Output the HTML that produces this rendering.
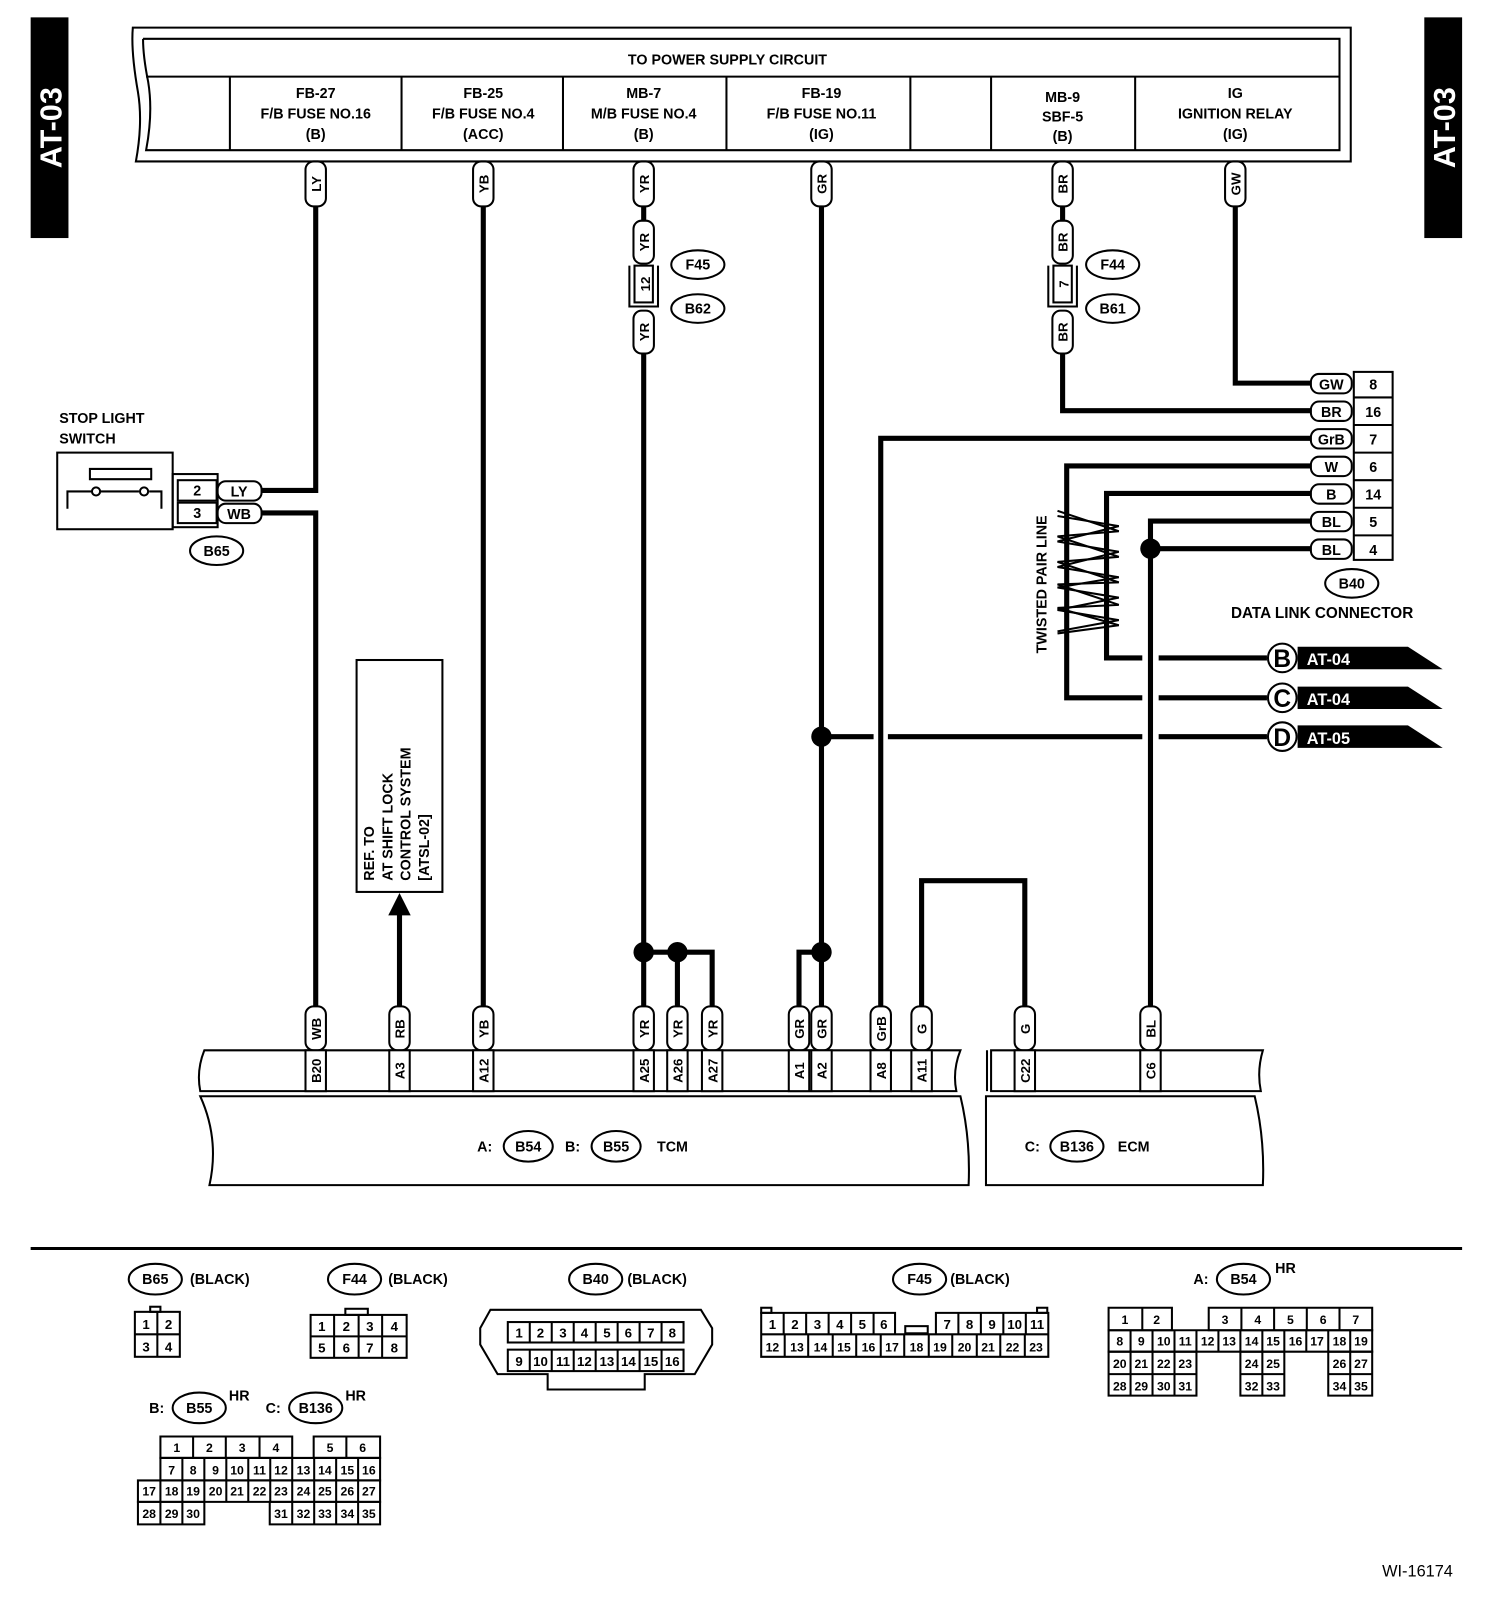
<!DOCTYPE html>
<html><head><meta charset="utf-8"><style>
html,body{margin:0;padding:0;background:#fff}
svg{display:block}
text{font-family:"Liberation Sans",sans-serif;font-weight:bold;fill:#000}
.w{stroke:#000;stroke-width:5;fill:none}
.t{stroke:#000;stroke-width:2;fill:none}
.p{stroke:#000;stroke-width:2;fill:#fff}
</style></head><body>
<svg width="1504" height="1602" viewBox="0 0 1472 1568" preserveAspectRatio="none" xmlns="http://www.w3.org/2000/svg">
<!-- side tabs -->
<rect x="30" y="17" width="37" height="216" fill="#000"/>
<text transform="translate(60,125) rotate(-90)" font-size="30" text-anchor="middle" style="fill:#fff">AT-03</text>
<rect x="1394" y="17" width="37" height="216" fill="#000"/>
<text transform="translate(1424,125) rotate(-90)" font-size="30" text-anchor="middle" style="fill:#fff">AT-03</text>

<!-- top power box -->
<path class="t" d="M130,27 L1322,27 L1322,158 L133,158 Q140,120 135,90 Q128,50 130,27 Z"/>
<path class="t" d="M140,38 L1311,38 L1311,147 L143,147 Q150,110 145,80 Q140,55 140,38"/>
<line class="t" x1="143" y1="75" x2="1311" y2="75"/>
<text x="712" y="63" font-size="14" text-anchor="middle">TO POWER SUPPLY CIRCUIT</text>
<g class="t">
<line x1="225" y1="75" x2="225" y2="147"/><line x1="393" y1="75" x2="393" y2="147"/>
<line x1="551" y1="75" x2="551" y2="147"/><line x1="711" y1="75" x2="711" y2="147"/>
<line x1="891" y1="75" x2="891" y2="147"/><line x1="970" y1="75" x2="970" y2="147"/>
<line x1="1111" y1="75" x2="1111" y2="147"/></g>
<g font-size="14" text-anchor="middle">
<text x="309" y="96">FB-27</text><text x="309" y="116">F/B FUSE NO.16</text><text x="309" y="136">(B)</text>
<text x="473" y="96">FB-25</text><text x="473" y="116">F/B FUSE NO.4</text><text x="473" y="136">(ACC)</text>
<text x="630" y="96">MB-7</text><text x="630" y="116">M/B FUSE NO.4</text><text x="630" y="136">(B)</text>
<text x="804" y="96">FB-19</text><text x="804" y="116">F/B FUSE NO.11</text><text x="804" y="136">(IG)</text>
<text x="1040" y="100">MB-9</text><text x="1040" y="119">SBF-5</text><text x="1040" y="138">(B)</text>
<text x="1209" y="96">IG</text><text x="1209" y="116">IGNITION RELAY</text><text x="1209" y="136">(IG)</text>
</g>

<!-- wires -->
<g class="w">
<path d="M309,202 V480 H256"/>
<path d="M256,502 H309 V985"/>
<path d="M473,202 V985"/>
<path d="M630,202 V216 M630,346 V985"/>
<path d="M630,932 H697 V985 M663,932 V985"/>
<path d="M804,202 V985 M804,932 H782 V985"/>
<path d="M1040,202 V216 M1040,346 V402 H1283"/>
<path d="M1209,202 V375 H1283"/>
<path d="M1283,429 H862 V985"/>
<path d="M1283,456 H1044 V683 H1118 M1134,683 H1240"/>
<path d="M1283,483 H1083 V644 H1118 M1134,644 H1240"/>
<path d="M1283,510 H1126 V985 M1126,537 H1283"/>
<path d="M804,721 H855 M869,721 H1118 M1134,721 H1240"/>
<path d="M902,985 V862 H1003 V985"/>
<path d="M391,985 V893"/>
</g>
<polygon points="391,874 380,896 402,896" fill="#000"/>
<g fill="#000">
<circle cx="804" cy="721" r="10"/><circle cx="630" cy="932" r="10"/><circle cx="663" cy="932" r="10"/>
<circle cx="804" cy="932" r="10"/><circle cx="1126" cy="537" r="10"/></g>

<!-- twisted pair -->
<path class="t" d="M1035,505 L1095,515 L1035,530 L1095,540 L1035,555 L1095,565 L1035,575 L1095,585 L1035,597 L1095,607 L1035,618"/>
<path class="t" d="M1035,500 L1095,520 L1035,525 L1095,545 L1035,550 L1095,570 L1035,572 L1095,592 L1035,595 L1095,612 L1035,620"/>
<text transform="translate(1024,572) rotate(-90)" font-size="14" text-anchor="middle">TWISTED PAIR LINE</text>

<!-- off-page flags -->
<g>
<path d="M1270,633 H1378 L1412,655 H1270 Z" fill="#000"/>
<path d="M1270,672 H1378 L1412,694 H1270 Z" fill="#000"/>
<path d="M1270,710 H1378 L1412,732 H1270 Z" fill="#000"/>
<circle cx="1255" cy="644" r="14" class="p" stroke-width="3"/><circle cx="1255" cy="683" r="14" class="p" stroke-width="3"/><circle cx="1255" cy="721" r="14" class="p" stroke-width="3"/>
<text x="1255" y="653" font-size="24" text-anchor="middle">B</text>
<text x="1255" y="692" font-size="24" text-anchor="middle">C</text>
<text x="1255" y="730" font-size="24" text-anchor="middle">D</text>
<text x="1279" y="651" font-size="16" style="fill:#fff">AT-04</text>
<text x="1279" y="690" font-size="16" style="fill:#fff">AT-04</text>
<text x="1279" y="728" font-size="16" style="fill:#fff">AT-05</text>
</g>

<!-- DLC -->
<rect class="p" x="1325" y="364" width="38" height="184"/>
<g class="t"><line x1="1325" y1="389" x2="1363" y2="389"/><line x1="1325" y1="416" x2="1363" y2="416"/><line x1="1325" y1="443" x2="1363" y2="443"/><line x1="1325" y1="470" x2="1363" y2="470"/><line x1="1325" y1="497" x2="1363" y2="497"/><line x1="1325" y1="524" x2="1363" y2="524"/></g>
<g class="p">
<rect x="1283" y="366" width="40" height="19" rx="8"/><rect x="1283" y="393" width="40" height="19" rx="8"/><rect x="1283" y="420" width="40" height="19" rx="8"/><rect x="1283" y="447" width="40" height="19" rx="8"/><rect x="1283" y="474" width="40" height="19" rx="8"/><rect x="1283" y="501" width="40" height="19" rx="8"/><rect x="1283" y="528" width="40" height="19" rx="8"/></g>
<g font-size="14" text-anchor="middle">
<text x="1303" y="381">GW</text><text x="1303" y="408">BR</text><text x="1303" y="435">GrB</text><text x="1303" y="462">W</text><text x="1303" y="489">B</text><text x="1303" y="516">BL</text><text x="1303" y="543">BL</text>
<text x="1344" y="381">8</text><text x="1344" y="408">16</text><text x="1344" y="435">7</text><text x="1344" y="462">6</text><text x="1344" y="489">14</text><text x="1344" y="516">5</text><text x="1344" y="543">4</text>
</g>
<ellipse class="p" cx="1323" cy="571" rx="26" ry="14"/><text x="1323" y="576" font-size="14" text-anchor="middle">B40</text>
<text x="1294" y="605" font-size="15" text-anchor="middle">DATA LINK CONNECTOR</text>

<!-- inline connectors F45/B62, F44/B61 -->
<g>
<path class="t" d="M616,260 V300 H644 V260"/><rect class="p" x="621" y="260" width="18" height="36"/>
<text transform="translate(636,278) rotate(-90)" font-size="13" text-anchor="middle">12</text>
<ellipse class="p" cx="683" cy="259" rx="26" ry="14"/><text x="683" y="264" font-size="14" text-anchor="middle">F45</text>
<ellipse class="p" cx="683" cy="302" rx="26" ry="14"/><text x="683" y="307" font-size="14" text-anchor="middle">B62</text>
<path class="t" d="M1026,260 V300 H1054 V260"/><rect class="p" x="1031" y="260" width="18" height="36"/>
<text transform="translate(1046,278) rotate(-90)" font-size="13" text-anchor="middle">7</text>
<ellipse class="p" cx="1089" cy="259" rx="26" ry="14"/><text x="1089" y="264" font-size="14" text-anchor="middle">F44</text>
<ellipse class="p" cx="1089" cy="302" rx="26" ry="14"/><text x="1089" y="307" font-size="14" text-anchor="middle">B61</text>
</g>

<!-- vertical pills -->
<g class="p">
<rect x="299" y="158" width="20" height="44" rx="8"/><rect x="463" y="158" width="20" height="44" rx="8"/>
<rect x="620" y="158" width="20" height="44" rx="8"/><rect x="620" y="216" width="20" height="42" rx="8"/><rect x="620" y="304" width="20" height="42" rx="8"/>
<rect x="794" y="158" width="20" height="44" rx="8"/>
<rect x="1030" y="158" width="20" height="44" rx="8"/><rect x="1030" y="216" width="20" height="42" rx="8"/><rect x="1030" y="304" width="20" height="42" rx="8"/>
<rect x="1199" y="158" width="20" height="44" rx="8"/>
</g>
<g font-size="13" text-anchor="middle">
<text transform="translate(314,180) rotate(-90)">LY</text><text transform="translate(478,180) rotate(-90)">YB</text>
<text transform="translate(635,180) rotate(-90)">YR</text><text transform="translate(635,237) rotate(-90)">YR</text><text transform="translate(635,325) rotate(-90)">YR</text>
<text transform="translate(809,180) rotate(-90)">GR</text>
<text transform="translate(1045,180) rotate(-90)">BR</text><text transform="translate(1045,237) rotate(-90)">BR</text><text transform="translate(1045,325) rotate(-90)">BR</text>
<text transform="translate(1214,180) rotate(-90)">GW</text>
</g>

<!-- stop light switch -->
<text x="58" y="414" font-size="14">STOP LIGHT</text><text x="58" y="434" font-size="14">SWITCH</text>
<rect class="t" x="56" y="443" width="113" height="75"/>
<path class="t" d="M88,459 H148 V469 H88 Z M66,498 V481 H90 M98,481 H136 M146,481 H158 V498"/>
<circle class="t" cx="94" cy="481" r="4"/><circle class="t" cx="141" cy="481" r="4"/>
<rect class="t" x="169" y="464" width="44" height="52"/>
<rect class="p" x="174" y="470" width="38" height="20"/><rect class="p" x="174" y="492" width="38" height="20"/>
<text x="193" y="485" font-size="14" text-anchor="middle">2</text><text x="193" y="507" font-size="14" text-anchor="middle">3</text>
<rect class="p" x="213" y="471" width="43" height="19" rx="8"/><rect class="p" x="213" y="493" width="43" height="19" rx="8"/>
<text x="234" y="486" font-size="14" text-anchor="middle">LY</text><text x="234" y="508" font-size="14" text-anchor="middle">WB</text>
<ellipse class="p" cx="212" cy="539" rx="26" ry="14"/><text x="212" y="544" font-size="14" text-anchor="middle">B65</text>

<!-- REF box -->
<rect class="t" x="349" y="646" width="84" height="227"/>
<g font-size="14"><text transform="translate(366,862) rotate(-90)">REF. TO</text><text transform="translate(384,862) rotate(-90)">AT SHIFT LOCK</text><text transform="translate(402,862) rotate(-90)">CONTROL SYSTEM</text><text transform="translate(420,862) rotate(-90)">[ATSL-02]</text></g>

<!-- TCM / ECM -->
<path class="t" d="M200,1028 H940 Q932,1048 936,1068 H196 Q192,1048 200,1028 Z"/>
<path class="t" d="M196,1073 H940 Q950,1115 948,1160 H205 Q215,1115 196,1073 Z"/>
<path class="t" d="M966,1028 V1068 M970,1028 H1236 Q1230,1048 1234,1068 H970 Z"/>
<path class="t" d="M965,1073 H1228 Q1238,1115 1236,1160 H965 Z"/>
<text x="467" y="1127" font-size="14">A:</text>
<ellipse class="p" cx="517" cy="1122" rx="24" ry="15"/><text x="517" y="1127" font-size="14" text-anchor="middle">B54</text>
<text x="553" y="1127" font-size="14">B:</text>
<ellipse class="p" cx="603" cy="1122" rx="24" ry="15"/><text x="603" y="1127" font-size="14" text-anchor="middle">B55</text>
<text x="643" y="1127" font-size="14">TCM</text>
<text x="1003" y="1127" font-size="14">C:</text>
<ellipse class="p" cx="1054" cy="1122" rx="26" ry="15"/><text x="1054" y="1127" font-size="14" text-anchor="middle">B136</text>
<text x="1094" y="1127" font-size="14">ECM</text>

<!-- bottom pills + pin boxes -->
<g class="p">
<rect x="299" y="985" width="20" height="43" rx="8"/><rect x="381" y="985" width="20" height="43" rx="8"/><rect x="463" y="985" width="20" height="43" rx="8"/>
<rect x="620" y="985" width="20" height="43" rx="8"/><rect x="653" y="985" width="20" height="43" rx="8"/><rect x="687" y="985" width="20" height="43" rx="8"/>
<rect x="772" y="985" width="20" height="43" rx="8"/><rect x="794" y="985" width="20" height="43" rx="8"/><rect x="852" y="985" width="20" height="43" rx="8"/>
<rect x="892" y="985" width="20" height="43" rx="8"/><rect x="993" y="985" width="20" height="43" rx="8"/><rect x="1116" y="985" width="20" height="43" rx="8"/>
<rect x="299" y="1028" width="20" height="40"/><rect x="381" y="1028" width="20" height="40"/><rect x="463" y="1028" width="20" height="40"/>
<rect x="620" y="1028" width="20" height="40"/><rect x="653" y="1028" width="20" height="40"/><rect x="687" y="1028" width="20" height="40"/>
<rect x="772" y="1028" width="20" height="40"/><rect x="794" y="1028" width="20" height="40"/><rect x="852" y="1028" width="20" height="40"/>
<rect x="892" y="1028" width="20" height="40"/><rect x="993" y="1028" width="20" height="40"/><rect x="1116" y="1028" width="20" height="40"/>
</g>
<g font-size="13" text-anchor="middle">
<text transform="translate(314,1007) rotate(-90)">WB</text><text transform="translate(396,1007) rotate(-90)">RB</text><text transform="translate(478,1007) rotate(-90)">YB</text>
<text transform="translate(635,1007) rotate(-90)">YR</text><text transform="translate(668,1007) rotate(-90)">YR</text><text transform="translate(702,1007) rotate(-90)">YR</text>
<text transform="translate(787,1007) rotate(-90)">GR</text><text transform="translate(809,1007) rotate(-90)">GR</text><text transform="translate(867,1007) rotate(-90)">GrB</text>
<text transform="translate(907,1007) rotate(-90)">G</text><text transform="translate(1008,1007) rotate(-90)">G</text><text transform="translate(1131,1007) rotate(-90)">BL</text>
<text transform="translate(314,1048) rotate(-90)">B20</text><text transform="translate(396,1048) rotate(-90)">A3</text><text transform="translate(478,1048) rotate(-90)">A12</text>
<text transform="translate(635,1048) rotate(-90)">A25</text><text transform="translate(668,1048) rotate(-90)">A26</text><text transform="translate(702,1048) rotate(-90)">A27</text>
<text transform="translate(787,1048) rotate(-90)">A1</text><text transform="translate(809,1048) rotate(-90)">A2</text><text transform="translate(867,1048) rotate(-90)">A8</text>
<text transform="translate(907,1048) rotate(-90)">A11</text><text transform="translate(1008,1048) rotate(-90)">C22</text><text transform="translate(1131,1048) rotate(-90)">C6</text>
</g>

<line x1="30" y1="1222" x2="1431" y2="1222" stroke="#000" stroke-width="3"/>

<!-- connector legends -->
<g font-size="14">
<ellipse class="p" cx="152" cy="1252" rx="26" ry="15"/><text x="152" y="1257" text-anchor="middle">B65</text><text x="186" y="1257">(BLACK)</text>
<ellipse class="p" cx="347" cy="1252" rx="26" ry="15"/><text x="347" y="1257" text-anchor="middle">F44</text><text x="380" y="1257">(BLACK)</text>
<ellipse class="p" cx="583" cy="1252" rx="26" ry="15"/><text x="583" y="1257" text-anchor="middle">B40</text><text x="614" y="1257">(BLACK)</text>
<ellipse class="p" cx="900" cy="1252" rx="26" ry="15"/><text x="900" y="1257" text-anchor="middle">F45</text><text x="930" y="1257">(BLACK)</text>
<text x="1168" y="1257">A:</text><ellipse class="p" cx="1217" cy="1252" rx="26" ry="15"/><text x="1217" y="1257" text-anchor="middle">B54</text><text x="1248" y="1246">HR</text>
<text x="146" y="1383">B:</text><ellipse class="p" cx="195" cy="1378" rx="26" ry="15"/><text x="195" y="1383" text-anchor="middle">B55</text><text x="224" y="1371">HR</text>
<text x="260" y="1383">C:</text><ellipse class="p" cx="309" cy="1378" rx="26" ry="15"/><text x="309" y="1383" text-anchor="middle">B136</text><text x="338" y="1371">HR</text>
</g>
<g font-size="13" text-anchor="middle">
<!-- B65 -->
<rect class="t" x="147" y="1279" width="10" height="5"/>
<g class="t"><rect x="132" y="1284" width="44" height="44"/><line x1="154" y1="1284" x2="154" y2="1328"/><line x1="132" y1="1306" x2="176" y2="1306"/></g>
<text x="143" y="1301">1</text><text x="165" y="1301">2</text><text x="143" y="1323">3</text><text x="165" y="1323">4</text>
<!-- F44 -->
<rect class="t" x="338" y="1281" width="22" height="6"/>
<g class="t"><rect x="304" y="1287" width="94" height="42"/><line x1="327" y1="1287" x2="327" y2="1329"/><line x1="351" y1="1287" x2="351" y2="1329"/><line x1="374" y1="1287" x2="374" y2="1329"/><line x1="304" y1="1308" x2="398" y2="1308"/></g>
<text x="315" y="1303">1</text><text x="339" y="1303">2</text><text x="362" y="1303">3</text><text x="386" y="1303">4</text>
<text x="315" y="1324">5</text><text x="339" y="1324">6</text><text x="362" y="1324">7</text><text x="386" y="1324">8</text>
<!-- B40 -->
<path class="t" d="M480,1282 H686 L697,1300 V1316 L680,1345 H631 V1360 H536 V1345 H487 L470,1316 V1300 Z"/>
<g class="t"><rect x="497" y="1294" width="172" height="20"/><rect x="497" y="1321" width="172" height="21"/>
<path d="M518.5,1294V1314M540,1294V1314M561.5,1294V1314M583,1294V1314M604.5,1294V1314M626,1294V1314M647.5,1294V1314M518.5,1321V1342M540,1321V1342M561.5,1321V1342M583,1321V1342M604.5,1321V1342M626,1321V1342M647.5,1321V1342"/></g>
<text x="508" y="1309">1</text><text x="529" y="1309">2</text><text x="551" y="1309">3</text><text x="572" y="1309">4</text><text x="594" y="1309">5</text><text x="615" y="1309">6</text><text x="637" y="1309">7</text><text x="658" y="1309">8</text>
<text x="508" y="1337">9</text><text x="529" y="1337">10</text><text x="551" y="1337">11</text><text x="572" y="1337">12</text><text x="594" y="1337">13</text><text x="615" y="1337">14</text><text x="637" y="1337">15</text><text x="658" y="1337">16</text>
<!-- F45 -->
<g class="t"><rect x="745" y="1280" width="10" height="5"/><rect x="1015" y="1280" width="10" height="5"/><rect x="886" y="1298" width="22" height="7"/>
<path d="M745,1285H876V1306H745Z M916,1285H1026V1306H916Z M745,1306H1026V1328H745Z"/>
<path d="M767,1285V1306M789,1285V1306M811,1285V1306M833,1285V1306M855,1285V1306M938,1285V1306M960,1285V1306M982,1285V1306M1004,1285V1306"/>
<path d="M768,1306V1328M791,1306V1328M815,1306V1328M838,1306V1328M862,1306V1328M885,1306V1328M909,1306V1328M932,1306V1328M956,1306V1328M979,1306V1328M1003,1306V1328"/></g>
<text x="756" y="1301">1</text><text x="778" y="1301">2</text><text x="800" y="1301">3</text><text x="822" y="1301">4</text><text x="844" y="1301">5</text><text x="865" y="1301">6</text>
<text x="927" y="1301">7</text><text x="949" y="1301">8</text><text x="971" y="1301">9</text><text x="993" y="1301">10</text><text x="1015" y="1301">11</text>
<g font-size="12"><text x="756" y="1323">12</text><text x="780" y="1323">13</text><text x="803" y="1323">14</text><text x="826" y="1323">15</text><text x="850" y="1323">16</text><text x="873" y="1323">17</text><text x="897" y="1323">18</text><text x="920" y="1323">19</text><text x="944" y="1323">20</text><text x="967" y="1323">21</text><text x="991" y="1323">22</text><text x="1014" y="1323">23</text></g>
</g>
<!-- B54 -->
<g class="t">
<path d="M1085,1280H1147V1302H1085Z M1183,1280H1343V1302H1183Z M1118,1280V1302 M1215,1280V1302 M1247,1280V1302 M1279,1280V1302 M1311,1280V1302"/>
<path d="M1085,1302H1343V1323H1085Z M1106.5,1302V1323M1128,1302V1323M1149.5,1302V1323M1171,1302V1323M1192.5,1302V1323M1214,1302V1323M1235.5,1302V1323M1257,1302V1323M1278.5,1302V1323M1300,1302V1323M1321.5,1302V1323"/>
<path d="M1085,1323H1171V1366H1085Z M1214,1323H1257V1366H1214Z M1300,1323H1343V1366H1300Z M1085,1345H1171M1214,1345H1257M1300,1345H1343 M1106.5,1323V1366M1128,1323V1366M1149.5,1323V1366M1235.5,1323V1366M1321.5,1323V1366"/>
</g>
<g font-size="12" text-anchor="middle">
<text x="1101" y="1296">1</text><text x="1132" y="1296">2</text><text x="1199" y="1296">3</text><text x="1231" y="1296">4</text><text x="1263" y="1296">5</text><text x="1295" y="1296">6</text><text x="1327" y="1296">7</text>
<text x="1096" y="1317">8</text><text x="1117" y="1317">9</text><text x="1139" y="1317">10</text><text x="1160" y="1317">11</text><text x="1182" y="1317">12</text><text x="1203" y="1317">13</text><text x="1225" y="1317">14</text><text x="1246" y="1317">15</text><text x="1268" y="1317">16</text><text x="1289" y="1317">17</text><text x="1311" y="1317">18</text><text x="1332" y="1317">19</text>
<text x="1096" y="1339">20</text><text x="1117" y="1339">21</text><text x="1139" y="1339">22</text><text x="1160" y="1339">23</text><text x="1225" y="1339">24</text><text x="1246" y="1339">25</text><text x="1311" y="1339">26</text><text x="1332" y="1339">27</text>
<text x="1096" y="1361">28</text><text x="1117" y="1361">29</text><text x="1139" y="1361">30</text><text x="1160" y="1361">31</text><text x="1225" y="1361">32</text><text x="1246" y="1361">33</text><text x="1311" y="1361">34</text><text x="1332" y="1361">35</text>
</g>
<!-- B55/B136 -->
<g class="t">
<path d="M157,1406H286V1427H157Z M307,1406H372V1427H307Z M189,1406V1427M221,1406V1427M254,1406V1427M339,1406V1427"/>
<path d="M157,1427H372V1449H157Z M178.5,1427V1449M200,1427V1449M221.5,1427V1449M243,1427V1449M264.5,1427V1449M286,1427V1449M307.5,1427V1449M329,1427V1449M350.5,1427V1449"/>
<path d="M135,1449H372V1470H135Z M157,1449V1470M178.5,1449V1470M200,1449V1470M221.5,1449V1470M243,1449V1470M264.5,1449V1470M286,1449V1470M307.5,1449V1470M329,1449V1470M350.5,1449V1470"/>
<path d="M135,1470H200V1492H135Z M157,1470V1492M178.5,1470V1492 M264,1470H372V1492H264Z M286,1470V1492M307.5,1470V1492M329,1470V1492M350.5,1470V1492"/>
</g>
<g font-size="12" text-anchor="middle">
<text x="173" y="1421">1</text><text x="205" y="1421">2</text><text x="237" y="1421">3</text><text x="270" y="1421">4</text><text x="323" y="1421">5</text><text x="355" y="1421">6</text>
<text x="168" y="1443">7</text><text x="189" y="1443">8</text><text x="211" y="1443">9</text><text x="232" y="1443">10</text><text x="254" y="1443">11</text><text x="275" y="1443">12</text><text x="297" y="1443">13</text><text x="318" y="1443">14</text><text x="340" y="1443">15</text><text x="361" y="1443">16</text>
<text x="146" y="1464">17</text><text x="168" y="1464">18</text><text x="189" y="1464">19</text><text x="211" y="1464">20</text><text x="232" y="1464">21</text><text x="254" y="1464">22</text><text x="275" y="1464">23</text><text x="297" y="1464">24</text><text x="318" y="1464">25</text><text x="340" y="1464">26</text><text x="361" y="1464">27</text>
<text x="146" y="1486">28</text><text x="168" y="1486">29</text><text x="189" y="1486">30</text><text x="275" y="1486">31</text><text x="297" y="1486">32</text><text x="318" y="1486">33</text><text x="340" y="1486">34</text><text x="361" y="1486">35</text>
</g>

<text x="1422" y="1543" font-size="16" text-anchor="end" style="font-weight:normal">WI-16174</text>
</svg>
</body></html>
